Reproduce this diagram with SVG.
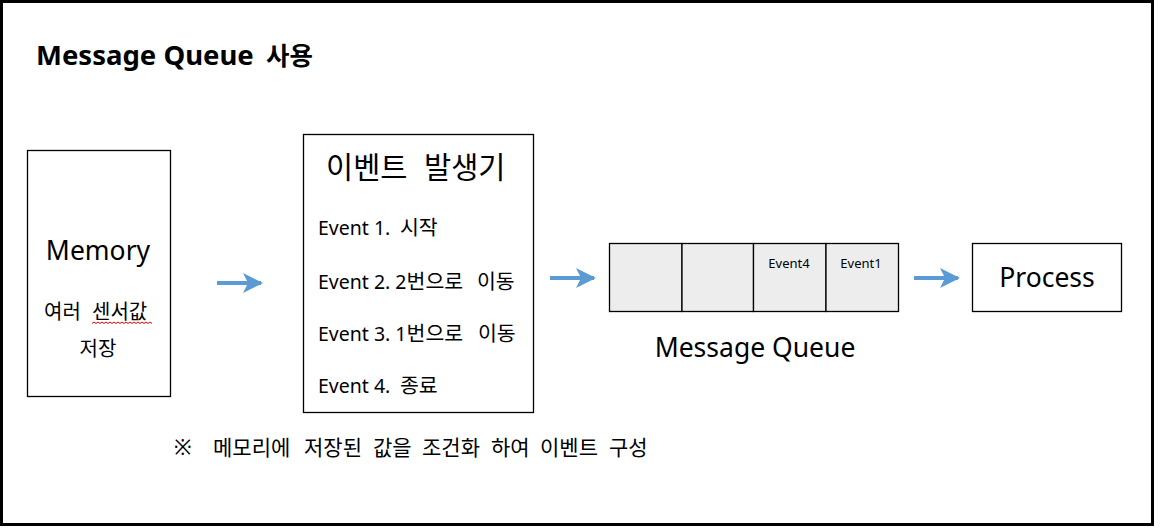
<svg xmlns="http://www.w3.org/2000/svg" width="1160" height="530" viewBox="0 0 1160 530">
<defs>
<style>
text{font-family:"Noto Sans","Noto Sans CJK KR",sans-serif;fill:#000}
.box{fill:#fff;stroke:#000;stroke-width:1.3}
.cell{fill:#ededed;stroke:#000;stroke-width:1.3}
.arr{stroke:#5b9bd5;stroke-width:4;fill:none;marker-end:url(#ah)}
.big{font-size:26.5px}
.lat{font-size:19.5px}
.ko{font-size:20.5px}
.ft{font-size:21px}
.sm{font-size:13px}
</style>
<marker id="ah" viewBox="0 0 10 10" refX="9" refY="5" markerWidth="5" markerHeight="5" markerUnits="strokeWidth" orient="auto">
<path d="M0,0 L10,5 L0,10 L2.5,5 Z" fill="#5b9bd5"/>
</marker>
</defs>
<rect x="0" y="0" width="1160" height="530" fill="#fff"/>
<rect x="1.5" y="1.5" width="1151" height="523" fill="none" stroke="#000" stroke-width="3"/>
<text y="65" font-weight="bold"><tspan x="36" font-size="27.5">Message Queue</tspan><tspan x="266" font-size="25.5">사용</tspan></text>
<g id="memory">
<rect class="box" x="27.5" y="150.5" width="143" height="246"/>
<text class="big" x="98" y="260" text-anchor="middle">Memory</text>
<text y="319" font-size="20"><tspan x="44">여러</tspan><tspan x="92">센서값</tspan></text>
<text x="98" y="356" font-size="20" text-anchor="middle">저장</text>
<path d="M92,323.5 l2,-1.5 l2,1.5 l2,-1.5 l2,1.5 l2,-1.5 l2,1.5 l2,-1.5 l2,1.5 l2,-1.5 l2,1.5 l2,-1.5 l2,1.5 l2,-1.5 l2,1.5 l2,-1.5 l2,1.5 l2,-1.5 l2,1.5 l2,-1.5 l2,1.5 l2,-1.5 l2,1.5 l2,-1.5 l2,1.5 l2,-1.5 l2,1.5 l2,-1.5 l2,1.5 l2,-1.5 l2,1.5" fill="none" stroke="#e00" stroke-width="1"/>
</g>
<g id="eventgen">
<rect class="box" x="303.5" y="134.5" width="230" height="278"/>
<text y="178" font-size="29.5"><tspan x="326">이벤트</tspan><tspan x="424">발생기</tspan></text>
<text y="235"><tspan class="lat" x="318">Event 1.</tspan><tspan class="ko" x="400">시작</tspan></text>
<text y="289"><tspan class="lat" x="318">Event 2. 2</tspan><tspan class="ko">번으로</tspan><tspan class="ko" x="477">이동</tspan></text>
<text y="341"><tspan class="lat" x="318">Event 3. 1</tspan><tspan class="ko">번으로</tspan><tspan class="ko" x="478">이동</tspan></text>
<text y="393"><tspan class="lat" x="318">Event 4.</tspan><tspan class="ko" x="400">종료</tspan></text>
</g>
<g id="queue">
<rect class="cell" x="609.5" y="243.5" width="72.5" height="68"/>
<rect class="cell" x="682" y="243.5" width="71.5" height="68"/>
<rect class="cell" x="753.5" y="243.5" width="72.5" height="68"/>
<rect class="cell" x="826" y="243.5" width="72.5" height="68"/>
<text class="sm" x="789" y="268" text-anchor="middle">Event4</text>
<text class="sm" x="861" y="268" text-anchor="middle">Event1</text>
<text class="big" x="755" y="357" text-anchor="middle">Message Queue</text>
</g>
<g id="process">
<rect class="box" x="972.5" y="243.5" width="149" height="68"/>
<text class="big" x="1047" y="287" text-anchor="middle">Process</text>
</g>
<g id="connectors">
<line class="arr" x1="217" y1="283" x2="261" y2="283"/>
<line class="arr" x1="550" y1="278" x2="594" y2="278"/>
<line class="arr" x1="914" y1="278" x2="958" y2="278"/>
</g>
<text class="ft" x="174" y="455">※</text>
<text class="ft" y="455"><tspan x="213">메모리에</tspan><tspan x="304">저장된</tspan><tspan x="373">값을</tspan><tspan x="422">조건화</tspan><tspan x="491">하여</tspan><tspan x="540">이벤트</tspan><tspan x="609">구성</tspan></text>
</svg>
